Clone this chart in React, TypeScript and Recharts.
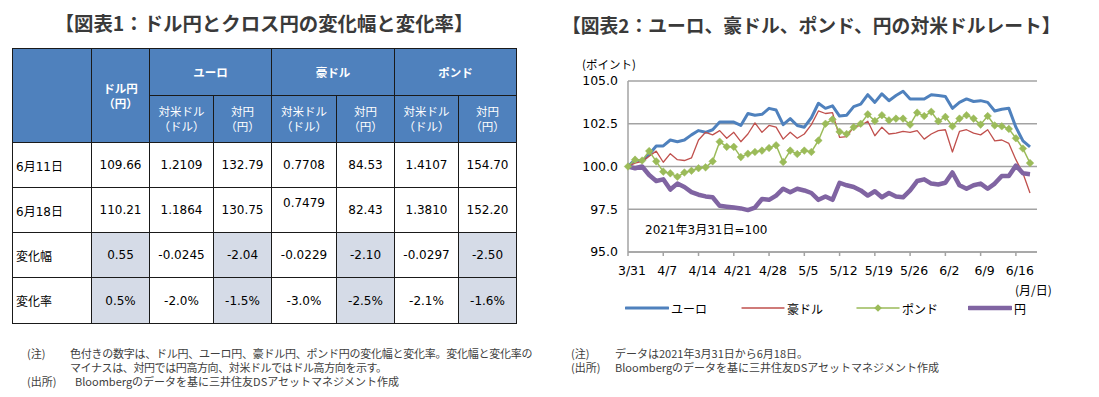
import React from 'react';
import { LineChart, Line, XAxis, YAxis, CartesianGrid } from 'recharts';

// ---------- chart data ----------
const dates = ['3/31','4/1','4/2','4/5','4/6','4/7','4/8','4/9','4/12','4/13','4/14','4/15','4/16','4/19','4/20','4/21','4/22','4/23','4/26','4/27','4/28','4/29','4/30','5/3','5/4','5/5','5/6','5/7','5/10','5/11','5/12','5/13','5/14','5/17','5/18','5/19','5/20','5/21','5/24','5/25','5/26','5/27','5/28','5/31','6/1','6/2','6/3','6/4','6/7','6/8','6/9','6/10','6/11','6/14','6/15','6/16','6/17','6/18'];

const euro = [100.0, 100.4, 100.3, 100.7, 101.2, 101.2, 101.55, 101.45, 101.55, 101.85,
  102.1, 102.0, 102.15, 102.6, 102.6, 102.6, 102.4, 103.1, 103.0, 103.05,
  103.4, 103.3, 102.45, 102.8, 102.4, 102.3, 102.85, 103.7, 103.4, 103.55,
  102.95, 103.0, 103.5, 103.65, 104.2, 103.75, 104.25, 103.85, 104.15, 104.4,
  103.95, 103.95, 103.95, 104.2, 104.15, 104.1, 103.4, 103.75, 103.95, 103.8,
  103.85, 103.75, 103.25, 103.35, 103.4, 102.3, 101.5, 101.15];

const aud = [100.0, 100.2, 100.3, 100.6, 100.9, 100.25, 100.75, 100.4, 100.35, 100.5,
  101.55, 102.0, 101.85, 102.1, 101.65, 102.0, 101.45, 101.9, 102.55,
  102.0, 102.4, 102.3, 101.6, 102.0, 101.65, 101.9, 102.45, 103.25, 103.1,
  103.15, 101.7, 101.75, 102.3, 102.4, 102.65, 101.8, 102.3, 101.9,
  101.95, 102.05, 102.0, 102.1, 101.6, 101.9, 102.1, 102.15, 100.85, 102.05,
  102.15, 101.95, 101.85, 102.15, 101.5, 101.55, 101.35, 100.4, 99.6, 98.45];

const gbp = [100.0, 100.4, 100.35, 100.9, 100.3, 99.7, 99.6, 99.4, 99.65, 99.75,
  99.9, 99.95, 100.3, 101.45, 101.15, 101.15, 100.55, 100.75, 100.85,
  100.93, 101.08, 101.24, 100.26, 100.93, 100.73, 100.93, 100.85, 101.52, 102.5,
  102.76, 102.03, 101.9, 102.3, 102.5, 103.05, 102.66, 103.0, 102.7,
  102.8, 102.8, 102.45, 103.15, 102.95, 103.2, 102.65, 102.9, 102.35, 102.8,
  103.0, 102.8, 102.45, 102.95, 102.4, 102.35, 102.2, 101.65, 101.05, 100.2];

const yen = [100.0, 99.9, 100.0, 99.5, 99.15, 99.25, 98.65, 99.0, 98.8, 98.5,
  98.35, 98.25, 98.2, 97.7, 97.65, 97.6, 97.55, 97.45, 97.6, 98.1,
  98.05, 98.3, 98.7, 98.5, 98.7, 98.6, 98.45, 98.05, 98.25, 98.05,
  99.05, 98.9, 98.8, 98.6, 98.3, 98.55, 98.2, 98.45, 98.25, 98.2,
  98.6, 99.15, 99.25, 99.0, 98.95, 99.05, 99.65, 98.9, 98.7, 98.9,
  99.0, 98.7, 99.0, 99.45, 99.45, 100.05, 99.6, 99.55];

const yTicks = [95, 97.5, 100, 102.5, 105];

const seriesKeys = ['euro', 'aud', 'gbp', 'yen'];
const seriesNames = ['ユーロ', '豪ドル', 'ポンド', '円'];
const seriesColors = ['#4F81BD', '#C0504D', '#9BBB59', '#8064A2'];
const seriesWidths = [3, 1.3, 1.5, 4.5];

const chartData = dates.map((d, i) => ({ date: d, euro: euro[i], aud: aud[i], gbp: gbp[i], yen: yen[i] }));

// ---------- table data ----------
const rowLabels = ['6月11日', '6月18日', '変化幅', '変化率'];
const usdJpy = ['109.66', '110.21', '0.55', '0.5%'];
const eurUsd = ['1.2109', '1.1864', '-0.0245', '-2.0%'];
const eurJpy = ['132.79', '130.75', '-2.04', '-1.5%'];
const audUsd = ['0.7708', '0.7479', '-0.0229', '-3.0%'];
const audJpy = ['84.53', '82.43', '-2.10', '-2.5%'];
const gbpUsd = ['1.4107', '1.3810', '-0.0297', '-2.1%'];
const gbpJpy = ['154.70', '152.20', '-2.50', '-1.6%'];
const groupNames = ['ユーロ', '豪ドル', 'ポンド'];

// ---------- layout ----------
const colX = [12, 91, 149, 213, 271, 336, 394, 458, 516];
const rowY = [48, 95, 142, 187, 232, 277, 323];
const HEAD_BG = '#4F81BD';
const HILITE = '#D5DBE7';
const NUM_FONT = "'DejaVu Sans', 'Noto Sans CJK JP', sans-serif";
const JP_FONT = "'Noto Sans CJK JP', sans-serif";
const legendX = [625, 741, 856, 968];

const Diamond = (props: any) => {
  const { cx, cy } = props;
  if (cx == null || cy == null) return null;
  const r = 3.8;
  return <path key={`d-${cx}`} d={`M${cx},${cy - r}L${cx + r},${cy}L${cx},${cy + r}L${cx - r},${cy}Z`} fill="#9BBB59" stroke="#9BBB59" strokeWidth={0.5} />;
};

type CellProps = { c0: number; c1: number; r0: number; r1: number; bg?: string; children?: React.ReactNode; style?: React.CSSProperties };
const Cell = ({ c0, c1, r0, r1, bg, children, style }: CellProps) => (
  <div style={{
    position: 'absolute', left: colX[c0], top: rowY[r0], width: colX[c1] - colX[c0] + 1, height: rowY[r1] - rowY[r0] + 1,
    boxSizing: 'border-box', border: '1px solid #1a1a1a', background: bg || '#fff',
    display: 'flex', alignItems: 'center', justifyContent: 'center', textAlign: 'center', ...style,
  }}>{children}</div>
);

export default function App() {
  const dataCols = [usdJpy, eurUsd, eurJpy, audUsd, audJpy, gbpUsd, gbpJpy];
  const hiliteCols = [0, 2, 4, 6];
  return (
    <div style={{ position: 'absolute', left: 0, top: 0, width: 1099, height: 397, background: '#fff', overflow: 'hidden', fontFamily: JP_FONT }}>
      {/* Titles */}
      <div style={{ position: 'absolute', left: 0, width: 528, top: 13, textAlign: 'center', fontSize: 19.4, lineHeight: '20px', fontWeight: 700, color: '#3A3A3A', whiteSpace: 'nowrap' }}>【図表1：ドル円とクロス円の変化幅と変化率】</div>
      <div style={{ position: 'absolute', left: 562, top: 15, fontSize: 18.8, lineHeight: '20px', fontWeight: 700, color: '#3A3A3A', whiteSpace: 'nowrap' }}>【図表2：ユーロ、豪ドル、ポンド、円の対米ドルレート】</div>

      {/* Table header */}
      <Cell c0={0} c1={1} r0={0} r1={2} bg={HEAD_BG} />
      <Cell c0={1} c1={2} r0={0} r1={2} bg={HEAD_BG} style={{ color: '#fff', fontWeight: 700, fontSize: 11.5, lineHeight: '15px' }}>
        <div>ドル円<br />（円）</div>
      </Cell>
      {groupNames.map((g, k) => (
        <Cell key={g} c0={2 + k * 2} c1={4 + k * 2} r0={0} r1={1} bg={HEAD_BG} style={{ color: '#fff', fontWeight: 700, fontSize: 11.5 }}>{g}</Cell>
      ))}
      {groupNames.map((g, k) => (
        <React.Fragment key={'s' + g}>
          <Cell c0={2 + k * 2} c1={3 + k * 2} r0={1} r1={2} bg={HEAD_BG} style={{ color: '#fff', fontSize: 11.5, lineHeight: '15px' }}>
            <div>対米ドル<br />（ドル）</div>
          </Cell>
          <Cell c0={3 + k * 2} c1={4 + k * 2} r0={1} r1={2} bg={HEAD_BG} style={{ color: '#fff', fontSize: 11.5, lineHeight: '15px' }}>
            <div>対円<br />（円）</div>
          </Cell>
        </React.Fragment>
      ))}
      {/* Table body */}
      {rowLabels.map((lab, r) => (
        <React.Fragment key={lab}>
          <Cell c0={0} c1={1} r0={2 + r} r1={3 + r} style={{ justifyContent: 'flex-start', paddingLeft: 3, fontSize: 12, fontFamily: NUM_FONT, color: '#000' }}>{lab}</Cell>
          {dataCols.map((col, c) => (
            <Cell key={c} c0={1 + c} c1={2 + c} r0={2 + r} r1={3 + r}
              bg={r >= 2 && hiliteCols.includes(c) ? HILITE : '#fff'}
              style={{ fontSize: 12, fontFamily: NUM_FONT, color: '#000', paddingBottom: (r === 1 && c === 3) ? 14 : 0 }}>{col[r]}</Cell>
          ))}
        </React.Fragment>
      ))}

      {/* Left notes */}
      <div style={{ position: 'absolute', left: 27, top: 346, fontSize: 11, lineHeight: '14px', color: '#404040', whiteSpace: 'nowrap' }}>
        <div style={{ position: 'absolute', left: 0, top: 0 }}>(注)</div>
        <div style={{ position: 'absolute', left: 43, top: 0, letterSpacing: -0.25 }}>色付きの数字は、ドル円、ユーロ円、豪ドル円、ポンド円の変化幅と変化率。変化幅と変化率の</div>
        <div style={{ position: 'absolute', left: 43, top: 14, letterSpacing: -0.4 }}>マイナスは、対円では円高方向、対米ドルではドル高方向を示す。</div>
        <div style={{ position: 'absolute', left: 0, top: 28 }}>(出所)</div>
        <div style={{ position: 'absolute', left: 48, top: 28 }}>Bloombergのデータを基に三井住友DSアセットマネジメント作成</div>
      </div>

      {/* Right notes */}
      <div style={{ position: 'absolute', left: 571, top: 346, fontSize: 11, lineHeight: '14px', color: '#404040', whiteSpace: 'nowrap' }}>
        <div style={{ position: 'absolute', left: 0, top: 0 }}>(注)</div>
        <div style={{ position: 'absolute', left: 44, top: 0 }}>データは2021年3月31日から6月18日。</div>
        <div style={{ position: 'absolute', left: 0, top: 14 }}>(出所)</div>
        <div style={{ position: 'absolute', left: 44, top: 14 }}>Bloombergのデータを基に三井住友DSアセットマネジメント作成</div>
      </div>

      {/* Chart */}
      <div style={{ position: 'absolute', left: 582, top: 56, fontSize: 11.5, lineHeight: '16px', color: '#000', whiteSpace: 'nowrap' }}>(ポイント)</div>
      <div style={{ position: 'absolute', left: 560, top: 50 }}>
        <LineChart width={500} height={260} data={chartData} margin={{ top: 31, right: 23, bottom: 28, left: 0 }}>
          <CartesianGrid vertical={false} stroke="#A3A3A3" strokeWidth={1.5} />
          <XAxis dataKey="date" interval={4} tickSize={4} tickMargin={10} padding={{ left: 0, right: 7 }}
            stroke="#A3A3A3" strokeWidth={1.5}
            tick={{ fontSize: 12.5, fill: '#000', fontFamily: NUM_FONT, dx: 4 }} />
          <YAxis domain={[95, 105]} ticks={yTicks} width={68} tickLine={false} tickSize={0} tickMargin={10}
            tickFormatter={(v: number) => v.toFixed(1)} stroke="#A3A3A3" strokeWidth={1.5}
            tick={{ fontSize: 12.5, fill: '#000', fontFamily: NUM_FONT }} />
          {seriesKeys.map((k, i) => (
            <Line key={k} type="linear" dataKey={k} name={seriesNames[i]} stroke={seriesColors[i]} strokeWidth={seriesWidths[i]}
              dot={k === 'gbp' ? <Diamond /> : false} activeDot={false} isAnimationActive={false} strokeLinejoin="round" />
          ))}
        </LineChart>
      </div>
      <div style={{ position: 'absolute', left: 645, top: 222, fontSize: 12, lineHeight: '16px', fontFamily: NUM_FONT, color: '#000', whiteSpace: 'nowrap' }}>2021年3月31日=100</div>
      <div style={{ position: 'absolute', left: 1015, top: 282, fontSize: 12, lineHeight: '16px', color: '#000', whiteSpace: 'nowrap' }}>(月/日)</div>

      {/* Legend */}
      {seriesNames.map((n, i) => (
        <div key={n} style={{ position: 'absolute', left: legendX[i], top: 300, height: 16, display: 'flex', alignItems: 'center', whiteSpace: 'nowrap' }}>
          <svg width={44} height={16} style={{ display: 'block' }}>
            <line x1={1} y1={8} x2={43} y2={8} stroke={seriesColors[i]} strokeWidth={seriesWidths[i]} strokeLinecap="round" />
            {seriesKeys[i] === 'gbp' && <path d="M22,4.2L25.8,8L22,11.8L18.2,8Z" fill="#9BBB59" />}
          </svg>
          <span style={{ fontSize: 12, color: '#000', marginLeft: 2 }}>{n}</span>
        </div>
      ))}
    </div>
  );
}
